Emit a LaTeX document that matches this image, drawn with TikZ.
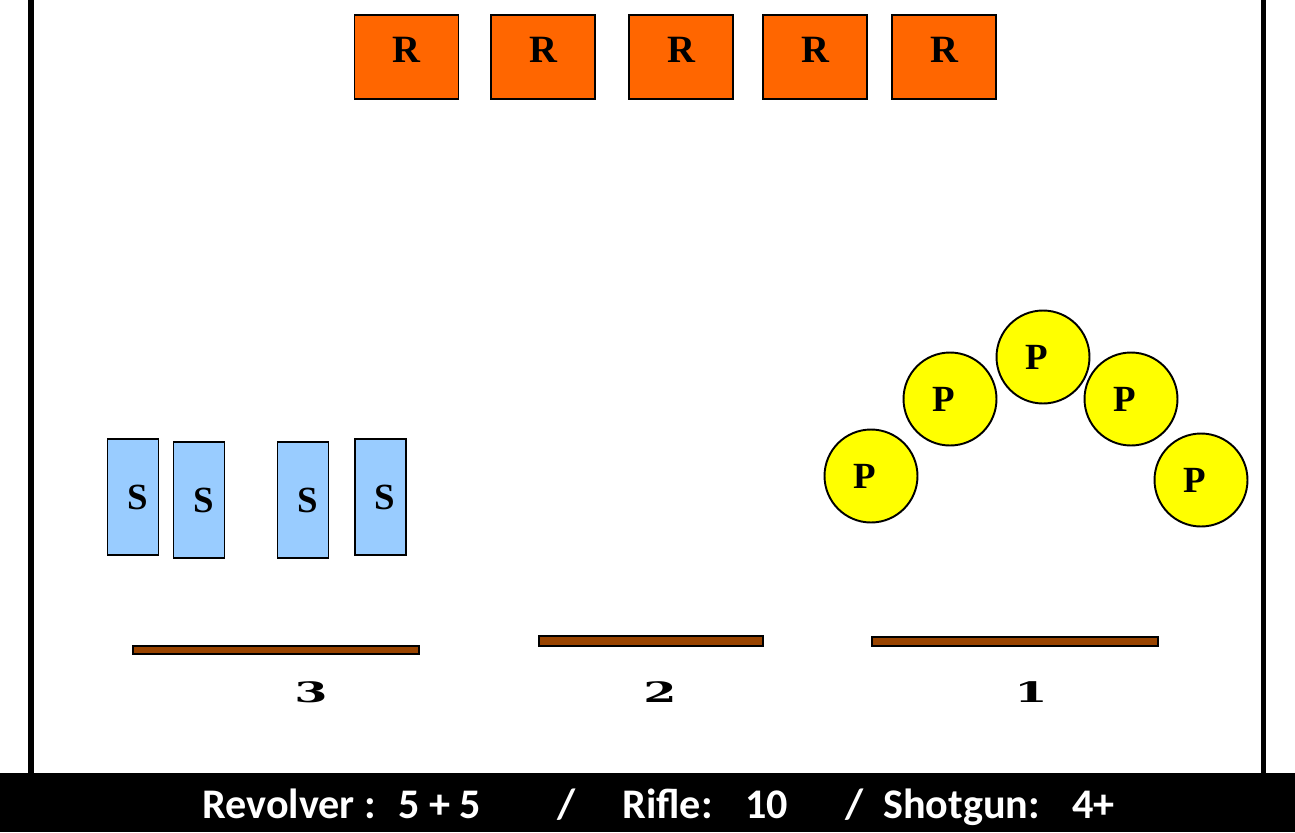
\documentclass[tikz,border=0pt]{standalone}
\usepackage{fontspec}
\setmainfont{Liberation Serif}
\newfontfamily\footfont{Carlito}
\newfontfamily\numfont{DejaVu Serif}
\usepackage{xcolor}
\definecolor{rangeorange}{HTML}{FF6600}
\definecolor{shotblue}{HTML}{99CCFF}
\definecolor{pistolyellow}{HTML}{FFFF00}
\definecolor{tablebrown}{HTML}{994400}
\tikzset{
  rbox/.style={draw=black, line width=1.1pt, fill=rangeorange, minimum width=2.08cm, minimum height=1.68cm, inner sep=0pt, font=\fontsize{22}{22}\selectfont\bfseries},
  sbox/.style={draw=black, line width=1.1pt, fill=shotblue, minimum width=1.02cm, minimum height=2.32cm, inner sep=0pt, font=\fontsize{21}{21}\selectfont\bfseries},
  pdisc/.style={circle, draw=black, line width=1.1pt, fill=pistolyellow, minimum size=1.86cm, inner sep=0pt, font=\fontsize{21}{21}\selectfont\bfseries},
  tablebar/.style={draw=black, line width=1.1pt, fill=tablebrown},
  posnum/.style={inner sep=0pt, font=\numfont\fontsize{16}{16}\selectfont\bfseries},
  foot/.style={anchor=base west, inner sep=0pt, text=white, font=\footfont\fontsize{24}{24}\selectfont\bfseries}
}

\begin{document}
\begin{tikzpicture}[x=0.02cm, y=-0.02cm]
\useasboundingbox (0,0) rectangle (1295,832);
% bay walls and footer band
\draw[black, line width=3.2pt] (31,0) -- (31,773);
\draw[black, line width=3.2pt] (1263.5,0) -- (1263.5,773);
\fill[black] (0,773) rectangle (1295,832);
% rifle targets
\node[rbox] (r1) at (406.5,57) {\raisebox{8pt}{R}};
\node[rbox] (r2) at (543,57) {\raisebox{8pt}{R}};
\node[rbox] (r3) at (681,57) {\raisebox{8pt}{R}};
\node[rbox] (r4) at (815,57) {\raisebox{8pt}{R}};
\node[rbox] (r5) at (944,57) {\raisebox{8pt}{R}};
% shotgun targets
\node[sbox] (s1) at (133,497) {\hspace*{5pt}S};
\node[sbox] (s2) at (199,500) {\hspace*{5pt}S};
\node[sbox] (s3) at (303,500) {\hspace*{5pt}S};
\node[sbox] (s4) at (380.5,497) {\hspace*{5pt}S};
% pistol plates
\node[pdisc] (p1) at (871,476) {P\hspace*{7pt}};
\node[pdisc] (p2) at (950,399) {P\hspace*{7pt}};
\node[pdisc] (p3) at (1043,357) {P\hspace*{7pt}};
\node[pdisc] (p4) at (1131,399) {P\hspace*{7pt}};
\node[pdisc] (p5) at (1201,480) {P\hspace*{7pt}};
% shooting positions
\filldraw[tablebar] (133,646) rectangle (419,654);
\filldraw[tablebar] (539,636) rectangle (763,646);
\filldraw[tablebar] (872,637) rectangle (1158,646);
\node[posnum] (pos3) at (311,692) {\scalebox{1.7}[1]{3}};
\node[posnum] (pos2) at (660,692) {\scalebox{1.7}[1]{2}};
\node[posnum] (pos1) at (1031,692) {\scalebox{1.7}[1]{1}};
% round count
\node[foot] (revolver) at (202,818) {Revolver :};
\node[foot] (revcount) at (398,818) {5 + 5};
\node[foot] (slasha) at (557,818) {/};
\node[foot] (rifle) at (622,818) {Rifle:};
\node[foot] (riflecount) at (745,818) {10};
\node[foot] (slashb) at (845,818) {/};
\node[foot] (shotgun) at (883,818) {Shotgun:};
\node[foot] (shotcount) at (1072,818) {4+};
\end{tikzpicture}
\end{document}
